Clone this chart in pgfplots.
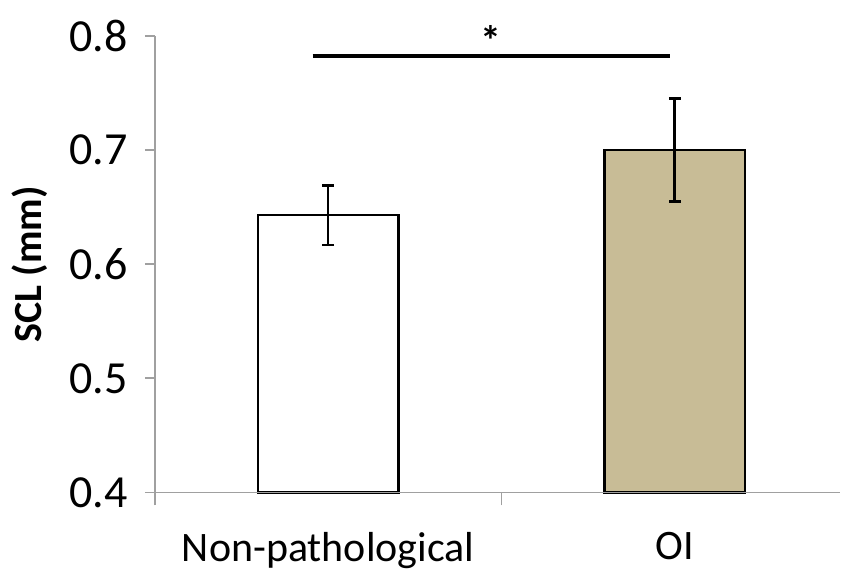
\documentclass[border=0pt]{standalone}
\usepackage{fontspec}
\setmainfont{Carlito}
\usepackage{pgfplots}
\pgfplotsset{compat=1.18}
\definecolor{axgray}{HTML}{A0A0A0}
\definecolor{oifill}{HTML}{C8BC96}
\begin{document}
\begin{tikzpicture}
\begin{axis}[
  at={(0,0)}, anchor=south west,
  scale only axis, width=686pt, height=457pt,
  xmin=-0.5, xmax=1.477, ymin=0.4, ymax=0.8,
  axis x line=bottom, axis y line=left,
  axis on top,
  axis line style={-, draw=axgray, line width=1.8pt},
  ytick={0.4,0.5,0.6,0.7,0.8},
  yticklabel style={font=\fontsize{46}{50}\selectfont, /pgf/number format/fixed, /pgf/number format/precision=1, /pgf/number format/fixed zerofill},
  /pgf/number format/assume math mode=true,
  xtick={0,1}, xticklabels={Non-pathological, OI},
  major x tick style={draw=none},
  minor xtick={-0.5,0.5,1.5},
  minor x tick style={draw=axgray, line width=1.8pt},
  minor tick length=13pt,
  y tick style={draw=axgray, line width=1.8pt},
  major tick length=10pt,
  tick align=outside,
  xticklabel style={font=\fontsize{42}{46}\selectfont, anchor=north, yshift=-26pt},
  yticklabel style={xshift=-14pt},
  ylabel={\bfseries SCL (mm)},
  every axis y label/.style={at={(axis description cs:-0.1822,0.5)}, rotate=90, anchor=center, font=\fontsize{40}{44}\selectfont},
  ybar, bar width=141pt, bar shift=0pt,
  clip=false,
]
\addplot[draw=black, line width=2.4pt, fill=white,
  error bars/.cd, y dir=both, y explicit,
  error bar style={line width=2.6pt, black},
  error mark options={line width=2.6pt, mark size=6pt, black, rotate=90}]
  coordinates {(0,0.643) +- (0,0.026)};
\addplot[draw=black, line width=2.4pt, fill=oifill,
  error bars/.cd, y dir=both, y explicit,
  error bar style={line width=2.6pt, black},
  error mark options={line width=2.6pt, mark size=6pt, black, rotate=90}]
  coordinates {(1,0.700) +- (0,0.045)};
\draw[black, line width=4pt] (axis cs:-0.045,0.7825) -- (axis cs:0.987,0.7825);
\node[font=\fontsize{42}{46}\selectfont\bfseries] at (axis cs:0.471,0.796) {*};
\end{axis}
\path[use as bounding box] (-155pt,-74pt) rectangle (686pt,493pt);
\end{tikzpicture}
\end{document}
